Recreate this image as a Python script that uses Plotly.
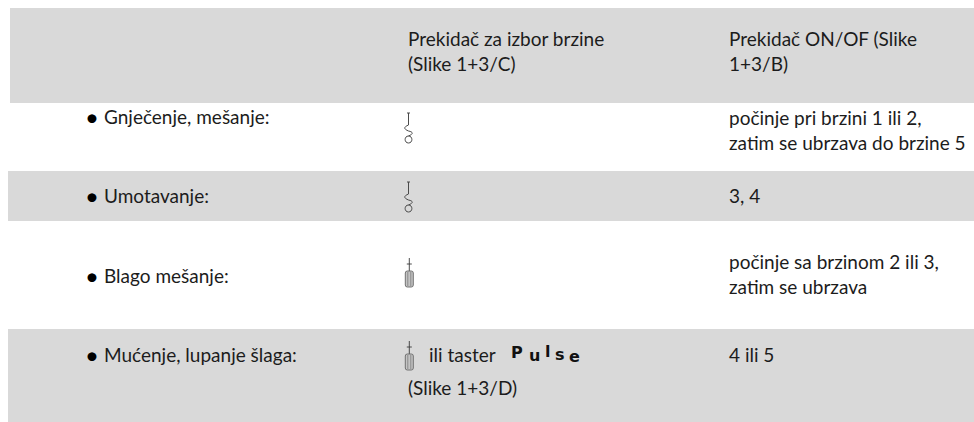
import plotly.graph_objects as go

# Table content
col_headers = ["Prekidač za izbor brzine<br>(Slike 1+3/C)", "Prekidač ON/OF (Slike<br>1+3/B)"]
row_labels = ["Gnječenje, mešanje:", "Umotavanje:", "Blago mešanje:", "Mućenje, lupanje šlaga:"]
onoff_values = ["počinje pri brzini 1 ili 2,<br>zatim se ubrzava do brzine 5", "3, 4",
                "počinje sa brzinom 2 ili 3,<br>zatim se ubrzava", "4 ili 5"]
extra_texts = ["ili taster", "(Slike 1+3/D)"]
pulse_letters = ["P", "u", "l", "s", "e"]

# Layout constants
W, H = 974, 422
bands = [(10, 8, 103), (8, 171, 221), (8, 329, 423)]
row_y = [116.5, 195.5, 275.5, 354.5]
value_y = [129.5, 195.5, 274, 354.5]
pulse_x = [510, 527.5, 543.5, 554, 568]
pulse_y = [352.5, 355, 351.5, 354, 356]
X_BULLET, X_LABEL, X_SW, X_VAL = 84, 103, 407, 728
FONT = "Lato"
SIZE = 19
TXT = "#1c1c1c"
GREY = "#d9d9d9"

fig = go.Figure()
shapes = [dict(type="rect", x0=x0, x1=W, y0=y0, y1=y1, fillcolor=GREY,
               line_width=0, layer="below", xref="x", yref="y") for x0, y0, y1 in bands]


def hook(x, y):
    d = (f"M{x-1.5},{y} L{x+1.5},{y} M{x},{y} L{x},{y+12} "
         f"C{x-5},{y+14} {x-5},{y+16} {x},{y+18} C{x+5},{y+19} {x+5},{y+21} {x},{y+23} "
         f"C{x-4.5},{y+23} {x-4.5},{y+30} {x},{y+30} C{x+4.5},{y+30} {x+4.5},{y+23} {x},{y+23}")
    return dict(type="path", path=d, line=dict(color="#4a4a4a", width=1), xref="x", yref="y")


def beater(x, y):
    body = (f"M{x-4},{y+15} Q{x-4},{y+13} {x-2},{y+13} L{x+2},{y+13} Q{x+4},{y+13} {x+4},{y+15} "
            f"L{x+4},{y+27} Q{x+4},{y+29} {x+2},{y+29} L{x-2},{y+29} Q{x-4},{y+29} {x-4},{y+27} Z")
    return [dict(type="path", path=f"M{x},{y} L{x},{y+13} M{x-2.5},{y+6} L{x+2.5},{y+6}",
                 line=dict(color="#3a3a3a", width=0.9), xref="x", yref="y"),
            dict(type="path", path=body,
                 line=dict(color="#666666", width=0.9), fillcolor="#c4c4c4", xref="x", yref="y"),
            dict(type="path", path=f"M{x-1.5},{y+14} L{x-1.5},{y+28} M{x+1.5},{y+14} L{x+1.5},{y+28}",
                 line=dict(color="#7a7a7a", width=0.8), xref="x", yref="y")]


shapes += [hook(408.5, 113), hook(408.5, 182)]
shapes += beater(409.3, 258) + beater(409.3, 341)

annotations = []


def text(x, y, s, family=FONT, size=SIZE, color=TXT):
    annotations.append(dict(x=x, y=y, text=s, xref="x", yref="y", showarrow=False, xanchor="left",
                            yanchor="middle", align="left", borderpad=0,
                            font=dict(family=family, size=size, color=color)))


text(X_SW, 50.5, col_headers[0])
text(X_VAL, 50.5, col_headers[1])
for lab, y in zip(row_labels, row_y):
    text(X_BULLET, y, "•", size=24, color="#000000")
    text(X_LABEL, y, lab)
for val, y in zip(onoff_values, value_y):
    text(X_VAL, y, val)
text(428, 354.5, extra_texts[0])
text(X_SW, 387.5, extra_texts[1])
for ch, x, y in zip(pulse_letters, pulse_x, pulse_y):
    text(x, y, f"<b>{ch}</b>", family="DejaVu Sans", size=16, color="#111111")

fig.add_trace(go.Scatter(x=[0, W], y=[0, H], mode="markers", marker=dict(opacity=0),
                         hoverinfo="skip", showlegend=False))
fig.update_layout(width=W, height=H, margin=dict(l=0, r=0, t=0, b=0, pad=0), plot_bgcolor="white",
                  paper_bgcolor="white", shapes=shapes, annotations=annotations,
                  xaxis=dict(range=[0, W], visible=False, fixedrange=True),
                  yaxis=dict(range=[H, 0], visible=False, fixedrange=True))
fig.write_html("out.html", config={"displayModeBar": False},
               post_script="document.body.style.margin='0';document.body.style.overflow='hidden';")
